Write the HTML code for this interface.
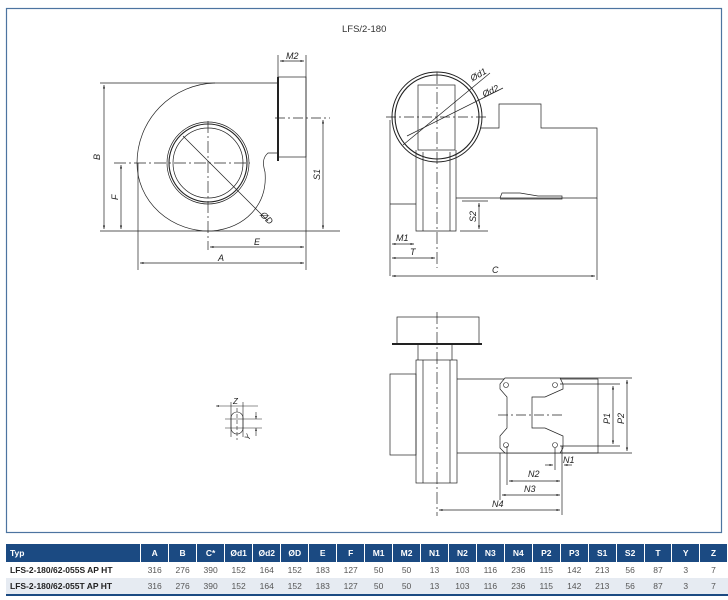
<!DOCTYPE html>
<html><head><meta charset="utf-8"><style>
body{margin:0;background:#fff;width:728px;height:600px;overflow:hidden;font-family:"Liberation Sans",sans-serif}
svg{position:absolute;left:0;top:0}
table{position:absolute;left:6px;top:544px;border-collapse:collapse;font-family:"Liberation Sans",sans-serif;font-size:8.5px}
td,th{height:16px;padding:0;text-align:center;width:27.5px}
th{background:#1b4a82;color:#fff;font-weight:bold;border-right:1px solid #fff;height:18px}
th:first-child,td:first-child{text-align:left;padding-left:4px;width:134px}
td{color:#555}
td:first-child{color:#222;font-weight:bold}
tr.r1 td{background:#fff}
tr.r2 td{background:#e6ebf2;border-bottom:2px solid #1b4a82}
</style></head><body>
<svg width="728" height="600" viewBox="0 0 728 600" font-family="Liberation Sans,sans-serif" font-style="italic" font-size="9" fill="none" stroke="#222" stroke-width="0.7">
<rect x="6.5" y="8.5" width="715" height="524" stroke="#4d74a0" stroke-width="1.2"/>
<text x="342" y="32" fill="#333" stroke="none" font-style="normal" font-size="9.5">LFS/2-180</text>
<defs><marker id="a" markerWidth="6" markerHeight="6" refX="5" refY="3" orient="auto-start-reverse"><path d="M0,1.5L5,3L0,4.5z" fill="#222" stroke="none"/></marker></defs>
<!-- LEFT VIEW -->
<line x1="100" y1="83" x2="278" y2="83"/>
<line x1="100" y1="231" x2="340" y2="231"/>
<path d="M215 83 A80 80 0 0 0 137 163 A72 68 0 0 0 212 231 C245 228 268 205 265 172 C263 165 262 158 268 153 L278 153"/>
<circle cx="208" cy="163" r="41"/><circle cx="208" cy="163" r="39" stroke-width="1.1"/><circle cx="208" cy="163" r="35"/>
<line x1="208" y1="121" x2="208" y2="250" stroke-dasharray="12,3,2,3"/>
<line x1="114" y1="163" x2="250" y2="163" stroke-dasharray="12,3,2,3"/>
<line x1="183" y1="136" x2="268" y2="221"/>
<text x="262" y="218" fill="#222" stroke="none" transform="rotate(45 264 214)">ØD</text>
<rect x="278" y="77" width="28" height="80"/><line x1="278" y1="77" x2="278" y2="161" stroke-width="2"/>
<line x1="275" y1="118" x2="330" y2="118" stroke-dasharray="10,3,2,3"/>
<line x1="306" y1="55" x2="306" y2="270"/><line x1="278" y1="55" x2="278" y2="77"/>
<line x1="138" y1="163" x2="138" y2="270"/>
<line x1="104" y1="85" x2="104" y2="229" marker-start="url(#a)" marker-end="url(#a)"/>
<line x1="121" y1="165" x2="121" y2="229" marker-start="url(#a)" marker-end="url(#a)"/>
<line x1="323" y1="120" x2="323" y2="229" marker-start="url(#a)" marker-end="url(#a)"/>
<line x1="210" y1="247" x2="304" y2="247" marker-start="url(#a)" marker-end="url(#a)"/>
<line x1="140" y1="263" x2="304" y2="263" marker-start="url(#a)" marker-end="url(#a)"/>
<line x1="280" y1="61" x2="304" y2="61" marker-start="url(#a)" marker-end="url(#a)"/>
<text x="286" y="59" fill="#222" stroke="none">M2</text>
<text x="100" y="160" fill="#222" stroke="none" transform="rotate(-90 100 160)">B</text>
<text x="118" y="200" fill="#222" stroke="none" transform="rotate(-90 118 200)">F</text>
<text x="320" y="180" fill="#222" stroke="none" transform="rotate(-90 320 180)">S1</text>
<text x="254" y="245" fill="#222" stroke="none">E</text>
<text x="218" y="261" fill="#222" stroke="none">A</text>
<!-- MIDDLE VIEW -->
<circle cx="437" cy="117" r="45" stroke-width="1"/><circle cx="437" cy="117" r="42" stroke-width="1.1"/>
<rect x="418" y="85" width="37" height="65"/>
<line x1="386" y1="117" x2="487" y2="117" stroke-dasharray="10,3,2,3"/>
<line x1="437" y1="72" x2="437" y2="268" stroke-dasharray="12,3,2,3"/>
<line x1="403" y1="145" x2="490" y2="73"/>
<line x1="407" y1="136" x2="503" y2="88"/>
<text x="470" y="80" fill="#222" stroke="none" transform="rotate(-30 474 76)">Ød1</text>
<text x="482" y="96" fill="#222" stroke="none" transform="rotate(-25 486 92)">Ød2</text>
<path d="M416 150 V231 H456 V150"/><line x1="423" y1="152" x2="423" y2="231"/><line x1="450" y1="152" x2="450" y2="231"/>
<path d="M480 128 H499 V104 H541 V128 H597 V198 H456"/>
<path d="M500 198 L502 193 H520 L538 196 H562 V199 H500"/>
<path d="M390 120 V276 M390 204 H416"/>
<line x1="597" y1="198" x2="597" y2="280"/>
<line x1="462" y1="201" x2="488" y2="201"/><line x1="460" y1="231" x2="488" y2="231"/>
<line x1="479" y1="203" x2="479" y2="229" marker-start="url(#a)" marker-end="url(#a)"/>
<text x="476" y="222" fill="#222" stroke="none" transform="rotate(-90 476 222)">S2</text>
<line x1="392" y1="244" x2="414" y2="244" marker-start="url(#a)" marker-end="url(#a)"/>
<line x1="392" y1="258" x2="435" y2="258" marker-start="url(#a)" marker-end="url(#a)"/>
<line x1="392" y1="276" x2="595" y2="276" marker-start="url(#a)" marker-end="url(#a)"/>
<text x="396" y="241" fill="#222" stroke="none">M1</text>
<text x="410" y="255" fill="#222" stroke="none">T</text>
<text x="492" y="273" fill="#222" stroke="none">C</text>
<!-- BOTTOM VIEW -->
<rect x="397" y="317" width="82" height="27"/><line x1="392" y1="344" x2="482" y2="344" stroke-width="2"/>
<line x1="418" y1="344" x2="418" y2="360"/><line x1="452" y1="344" x2="452" y2="360"/>
<rect x="416" y="360" width="41" height="123"/><line x1="423" y1="360" x2="423" y2="483"/><line x1="450" y1="360" x2="450" y2="483"/>
<rect x="390" y="374" width="26" height="81"/>
<line x1="437" y1="312" x2="437" y2="516" stroke-dasharray="12,3,2,3"/>
<path d="M457 379 H598 V453 H457"/>
<path d="M505 378 H560 L563 384 V389 L545 397 H532 V428 H545 L563 436 V448 L560 453 H505 L500 448 V436 L507 428 V397 L500 389 V384 Z" fill="#fff"/>
<g stroke-width="0.6"><circle cx="506" cy="385" r="2.5"/><circle cx="555" cy="385" r="2.5"/><circle cx="506" cy="445" r="2.5"/><circle cx="555" cy="445" r="2.5"/></g>
<line x1="498" y1="415" x2="565" y2="415" stroke-dasharray="10,3,2,3"/>
<path d="M560 378 H632 M560 384 H620 M560 446 H620 M560 453 H632 M500 453 V500 M507 446 V485 M562 446 V515 M555 448 V470"/>
<line x1="613" y1="386" x2="613" y2="444" marker-start="url(#a)" marker-end="url(#a)"/>
<line x1="627" y1="380" x2="627" y2="451" marker-start="url(#a)" marker-end="url(#a)"/>
<text x="610" y="424" fill="#222" stroke="none" transform="rotate(-90 610 424)">P1</text>
<text x="624" y="424" fill="#222" stroke="none" transform="rotate(-90 624 424)">P2</text>
<line x1="545" y1="465" x2="553" y2="465" marker-end="url(#a)"/><line x1="572" y1="465" x2="564" y2="465" marker-end="url(#a)"/>
<text x="563" y="463" fill="#222" stroke="none">N1</text>
<line x1="509" y1="481" x2="560" y2="481" marker-start="url(#a)" marker-end="url(#a)"/>
<line x1="502" y1="495" x2="560" y2="495" marker-start="url(#a)" marker-end="url(#a)"/>
<line x1="439" y1="510" x2="560" y2="510" marker-start="url(#a)" marker-end="url(#a)"/>
<text x="528" y="477" fill="#222" stroke="none">N2</text>
<text x="524" y="492" fill="#222" stroke="none">N3</text>
<text x="492" y="507" fill="#222" stroke="none">N4</text>
<!-- Z/Y symbol -->
<g stroke-width="0.6">
<rect x="231" y="412" width="12" height="22" rx="6"/>
<line x1="216" y1="406" x2="258" y2="406" marker-start="url(#a)"/>
<line x1="231" y1="402" x2="231" y2="437"/><line x1="243" y1="402" x2="243" y2="437"/>
<line x1="225" y1="419" x2="262" y2="419"/><line x1="225" y1="428" x2="262" y2="428"/>
<line x1="256" y1="412" x2="256" y2="419" marker-end="url(#a)"/><line x1="256" y1="436" x2="256" y2="428" marker-end="url(#a)"/>
<line x1="237" y1="408" x2="237" y2="440" stroke-dasharray="4,2"/>
</g>
<text x="233" y="404" fill="#222" stroke="none" font-size="8">Z</text>
<text x="246" y="440" fill="#222" stroke="none" font-size="8" transform="rotate(-60 248 438)">Y</text>
</svg>
<table>
<tr><th>Typ</th><th>A</th><th>B</th><th>C*</th><th>Ød1</th><th>Ød2</th><th>ØD</th><th>E</th><th>F</th><th>M1</th><th>M2</th><th>N1</th><th>N2</th><th>N3</th><th>N4</th><th>P2</th><th>P3</th><th>S1</th><th>S2</th><th>T</th><th>Y</th><th>Z</th></tr>
<tr class="r1"><td>LFS-2-180/62-055S AP HT</td><td>316</td><td>276</td><td>390</td><td>152</td><td>164</td><td>152</td><td>183</td><td>127</td><td>50</td><td>50</td><td>13</td><td>103</td><td>116</td><td>236</td><td>115</td><td>142</td><td>213</td><td>56</td><td>87</td><td>3</td><td>7</td></tr>
<tr class="r2"><td>LFS-2-180/62-055T AP HT</td><td>316</td><td>276</td><td>390</td><td>152</td><td>164</td><td>152</td><td>183</td><td>127</td><td>50</td><td>50</td><td>13</td><td>103</td><td>116</td><td>236</td><td>115</td><td>142</td><td>213</td><td>56</td><td>87</td><td>3</td><td>7</td></tr>
</table>
</body></html>
